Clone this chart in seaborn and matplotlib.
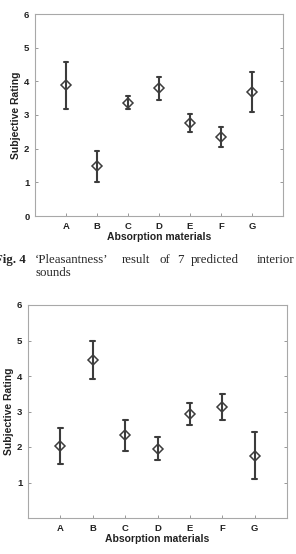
import matplotlib
matplotlib.use('Agg')
from matplotlib import pyplot as plt
import pandas as pd
import seaborn as sns

materials = ['A', 'B', 'C', 'D', 'E', 'F', 'G']

# Fig. 4 - pleasantness
pleas_mean = [3.89, 1.48, 3.36, 3.79, 2.76, 2.34, 3.69]
pleas_low = [3.19, 1.02, 3.18, 3.44, 2.49, 2.04, 3.10]
pleas_high = [4.58, 1.93, 3.55, 4.14, 3.02, 2.64, 4.29]

# second figure
second_mean = [2.02, 4.46, 2.33, 1.95, 2.92, 3.13, 1.76]
second_low = [1.53, 3.92, 1.88, 1.64, 2.61, 2.75, 1.10]
second_high = [2.53, 4.99, 2.77, 2.27, 3.23, 3.50, 2.41]

caption_words = ['\u2018Pleasantness\u2019', 'result', 'of', '7', 'predicted', 'interior']
caption_x = [35, 122, 159, 177, 191, 257]

sns.set_style('white')
plt.rcParams['font.family'] = ['Liberation Sans', 'DejaVu Sans']
dark = '#3c3c3c'


def long_table(mean, low, high):
    rows = []
    for m, a, b, c in zip(materials, low, mean, high):
        for v in (a, b, c):
            rows.append({'material': m, 'rating': v})
    return pd.DataFrame(rows)


def draw(ax, mean, low, high, yticks):
    df = long_table(mean, low, high)
    sns.pointplot(data=df, x='material', y='rating', order=materials,
                  estimator='median', errorbar=lambda s: (s.min(), s.max()),
                  color=dark, linestyle='none', marker='D', markersize=4.8,
                  markerfacecolor='white', markeredgewidth=1.1,
                  capsize=0.15, err_kws={'linewidth': 1.5}, ax=ax)
    ax.set_xlim(-1, 7)
    ax.set_ylim(0, 6)
    ax.set_yticks(yticks)
    ax.set_xlabel('Absorption materials', fontsize=7.5, fontweight='bold',
                  color='#222222', labelpad=1)
    ax.set_ylabel('Subjective Rating', fontsize=7.5, fontweight='bold',
                  color='#222222', labelpad=2)
    ax.tick_params(direction='in', length=2.5, width=0.6, color='#888888',
                   labelsize=6.8, labelcolor='#222222', pad=4,
                   top=False, right=True, left=True, bottom=True)
    for lab in ax.get_xticklabels() + ax.get_yticklabels():
        lab.set_fontweight('bold')
    for sp in ax.spines.values():
        sp.set_color('#a8a8a8')
        sp.set_linewidth(0.8)


fig = plt.figure(figsize=(2.96, 5.54), dpi=100)
W, H = 296, 554

ax1 = fig.add_axes([35 / W, (H - 216) / H, 248 / W, 202 / H])
draw(ax1, pleas_mean, pleas_low, pleas_high, [0, 1, 2, 3, 4, 5, 6])

ax2 = fig.add_axes([28 / W, (H - 518) / H, 259 / W, 213 / H])
draw(ax2, second_mean, second_low, second_high, [1, 2, 3, 4, 5, 6])

# caption of Fig. 4 (justified, clipped at page edge as in the page scan)
serif = ['Liberation Serif', 'DejaVu Serif']
fig.text(-5 / W, 1 - 260 / H, 'Fig. 4', fontsize=9.3, fontweight='bold',
         family=serif, va='center', ha='left')
for w, x in zip(caption_words, caption_x):
    fig.text(x / W, 1 - 260 / H, w, fontsize=9.3, family=serif,
             va='center', ha='left')
fig.text(36 / W, 1 - 273 / H, 'sounds', fontsize=9.3, family=serif,
         va='center', ha='left')

fig.savefig('out.png', dpi=100)
